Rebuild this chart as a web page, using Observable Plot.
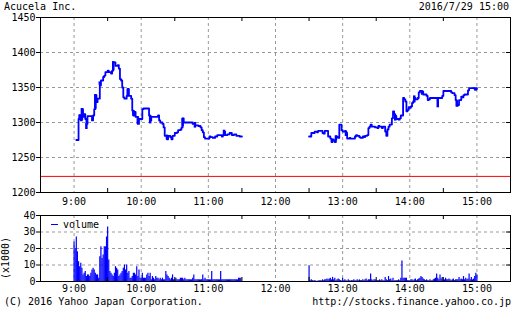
<!DOCTYPE html>
<html><head><meta charset="utf-8">
<script src="https://cdn.jsdelivr.net/npm/d3@7"></script>
<script src="https://cdn.jsdelivr.net/npm/@observablehq/plot@0.6"></script>
<style>
html,body{margin:0;padding:0;background:#fff;}
#c{position:relative;width:512px;height:310px;overflow:hidden;font-family:"DejaVu Sans Mono",monospace;font-size:10px;color:#000;}
#c svg{position:absolute;left:0;}
.t{position:absolute;line-height:12px;white-space:pre;}
</style></head><body><div id="c"></div>
<script>
const titleText = "Acucela Inc.";
const stampText = "2016/7/29 15:00";
const copyText = "(C) 2016 Yahoo Japan Corporation.";
const urlText = "http://stocks.finance.yahoo.co.jp";
const volUnit = "(x1000)";
const legendText = "volume";

const hourLabels = ["9:00","10:00","11:00","12:00","13:00","14:00","15:00"];
const halfLabels = ["9:30","10:30","11:30","12:30","13:30","14:30"];
const xRange = ["8:30","15:30"];
const priceTicks = [1200,1250,1300,1350,1400,1450];
const priceGrid = [1250,1300,1350,1400];
const volTicks = [0,10,20,30,40];
const volGrid = [10,20,30];
const prevClose = 1223;

const amTimes = ["9:02","9:04","9:05","9:06","9:07","9:08","9:09","9:10","9:11","9:12","9:16","9:17","9:18","9:19","9:20","9:21","9:23","9:24","9:26","9:27","9:28","9:30","9:31","9:33","9:34","9:35","9:37","9:39","9:40","9:41","9:42","9:43","9:44","9:45","9:47","9:48","9:49","9:51","9:52","9:53","9:54","9:55","9:57","9:58","10:01","10:02","10:07","10:08","10:09","10:15","10:16","10:17","10:19","10:20","10:21","10:23","10:24","10:26","10:27","10:28","10:30","10:32","10:33","10:35","10:36","10:37","10:38","10:46","10:48","10:51","10:53","10:54","10:55","10:56","10:57","11:01","11:02","11:04","11:06","11:08","11:12","11:13","11:14","11:15","11:17","11:19","11:21","11:23","11:25","11:28","11:30"];
const amPrices = [1275,1305,1310,1303,1319,1308,1312,1305,1298,1309,1303,1310,1319,1339,1329,1334,1353,1360,1365,1367,1372,1374,1372,1370,1374,1386,1381,1382,1377,1362,1360,1350,1336,1334,1338,1348,1338,1334,1317,1310,1315,1308,1298,1305,1319,1320,1310,1303,1308,1310,1303,1300,1298,1293,1281,1276,1281,1279,1276,1281,1285,1286,1289,1290,1293,1306,1300,1298,1296,1295,1293,1289,1286,1279,1277,1280,1279,1278,1280,1282,1280,1282,1287,1282,1283,1285,1282,1283,1281,1280,1280];

const pmTimes = ["12:30","12:32","12:33","12:35","12:37","12:38","12:41","12:42","12:43","12:44","12:46","12:47","12:49","12:50","12:51","12:52","12:53","12:54","12:55","12:56","12:57","12:59","13:00","13:02","13:03","13:04","13:06","13:07","13:10","13:11","13:12","13:13","13:15","13:16","13:18","13:19","13:20","13:22","13:23","13:24","13:25","13:26","13:29","13:31","13:32","13:33","13:35","13:36","13:38","13:39","13:40","13:41","13:42","13:44","13:45","13:46","13:47","13:48","13:50","13:51","13:52","13:54","13:55","13:56","13:57","13:58","13:59","14:00","14:01","14:02","14:03","14:04","14:05","14:07","14:08","14:09","14:11","14:12","14:14","14:15","14:16","14:17","14:18","14:24","14:26","14:29","14:30","14:35","14:37","14:38","14:40","14:41","14:42","14:43","14:44","14:46","14:47","14:48","14:49","14:52","14:53","14:56","14:58","14:59","15:00"];
const pmPrices = [1280,1285,1285,1287,1286,1288,1288,1285,1284,1288,1288,1280,1277,1272,1276,1274,1272,1280,1279,1278,1297,1289,1287,1288,1285,1277,1278,1277,1277,1280,1282,1281,1279,1278,1280,1279,1281,1282,1292,1294,1297,1294,1293,1292,1295,1294,1292,1294,1287,1281,1290,1294,1297,1306,1316,1312,1309,1305,1304,1306,1310,1335,1333,1330,1316,1318,1322,1321,1323,1328,1330,1335,1333,1335,1343,1345,1344,1340,1340,1338,1332,1333,1335,1335,1335,1338,1345,1345,1343,1342,1339,1332,1324,1325,1332,1337,1336,1339,1340,1346,1349,1349,1347,1349,1348];

const rangeTimes = ["9:05","9:07","9:11","9:19","9:23","9:35","9:48","9:53","9:57","10:08","10:23","10:37","10:48","11:14","12:54","13:03","13:47","14:04","14:11","14:25","14:42","14:59"];
const rangeLow  = [1303,1303,1290,1319,1353,1374,1338,1309,1297,1298,1275,1294,1292,1281,1274,1280,1302,1328,1339,1321,1322,1345];
const rangeHigh = [1311,1320,1298,1340,1358,1387,1348,1317,1308,1310,1282,1306,1300,1289,1281,1287,1310,1338,1345,1335,1331,1349];

const amVolStart = "9:00";
const amVol = [24,20,27,18,12,9,11,8,4,5,6,3,4,4,3,5,7,8,7,5,4,4,2,15,21,14,16,21,21,27,33,13,6,5,4,3,5,9,8,7,3,4,5,6,8,10,7,10,5,6,2,2,3,5,5,4,9,3,7,2,2,5,2,2,2,4,5,3,5,1,3,2,1,3,2,2,1,2,1,2,1,1,6,4,3,2,1,2,4,1,1,2,1,1,1,2,2,2,1,2,1,1,1,1,1,1,2,4,1,1,1,1,1,1,1,4,1,2,1,1,1,1,1,6,1,1,1,1,1,1,1,6,1,1,1,1,1,1,1,1,1,1,1,1,1,1,1,2,2,2,0];
const pmVolStart = "12:30";
const pmVol = [9.5,0.5,1,0.5,0.3,0.5,0.3,0,0.3,0.5,0.5,0.3,1,0.5,1,1,1.5,1,1.5,2,1,2.5,1,2,0.5,1,1.5,1,0.5,0.3,2,0.5,1,0.5,0.3,1,0.5,0.3,0.5,0.5,1,0.5,0.5,1,0.5,1,0.5,0.5,1,0.5,1,1.5,0.5,1,1,4.5,1,0.5,1,1,0.5,0.5,0.5,1,0.5,1,0.5,0.5,2.5,1,0.5,3,1,1.5,0.5,2,0.5,0.5,0.5,0.5,1,0.5,2,12.5,2,2,2,2,0.5,0.5,0.5,1,1,0.5,1,1.5,0.5,1,1.5,2,3,2.5,1.5,1,0.5,1,0.5,0.5,1,0.5,0.5,1,1.5,2,4.5,2,1,4,1.5,2.5,0.5,1,2,1,1,1.5,1,0.5,1,1.5,0.5,1,1,1,2.5,1,1.5,1,3,1,2,1,1.5,4.5,1,2.5,1,1.5,3,5,4];

const BLUE = "#0000ff", RED = "#ff0000", GRID = "#999999";
const FONT = "'DejaVu Sans Mono', monospace";

const toDate = s => { const [h, m] = s.split(":").map(Number); return new Date(Date.UTC(2016, 6, 29, h, m)); };
const addMin = (d, k) => new Date(d.getTime() + k * 60000);
const fmt = d => `${d.getUTCHours()}:${String(d.getUTCMinutes()).padStart(2, "0")}`;
const num = d => `${d}`;

const xDomain = xRange.map(toDate);
const hourTicks = hourLabels.map(toDate);
const halfTicks = halfLabels.map(toDate);

const price = [
  ...amTimes.map((t, i) => ({t: toDate(t), p: amPrices[i], s: "am"})),
  ...pmTimes.map((t, i) => ({t: toDate(t), p: pmPrices[i], s: "pm"}))
];
const ranges = rangeTimes.map((t, i) => ({t: toDate(t), lo: rangeLow[i], hi: rangeHigh[i]}));
const vols = [
  ...amVol.map((v, i) => ({t: addMin(toDate(amVolStart), i), v})),
  ...pmVol.map((v, i) => ({t: addMin(toDate(pmVolStart), i), v}))
];

const gridStyle = {stroke: GRID, strokeOpacity: 1, strokeDasharray: "3,3"};
const style = {fontFamily: FONT, fontSize: "10px", background: "transparent", overflow: "visible"};
const TICK = 4;

function panel({height, marginTop, marginBottom, yDomain, yTicks, yGrid, xPad, extra}) {
  const W = 512, ML = 40, MR = 2;
  const ph = height - marginTop - marginBottom;
  const pw = W - ML - MR;
  return Plot.plot({
    width: W, height, marginLeft: ML, marginRight: MR, marginTop, marginBottom,
    style,
    x: {type: "utc", domain: xDomain, label: null},
    y: {domain: yDomain, label: null},
    marks: [
      Plot.gridX(hourTicks, gridStyle),
      Plot.gridY(yGrid, gridStyle),
      ...extra,
      Plot.frame({stroke: "#000"}),
      Plot.ruleX(halfTicks, {stroke: "#000", insetTop: ph - TICK}),
      Plot.ruleX(halfTicks, {stroke: "#000", insetBottom: ph - TICK}),
      Plot.ruleY(yGrid, {stroke: "#000", insetLeft: pw - TICK}),
      Plot.axisX(hourTicks, {anchor: "bottom", tickSize: 0, tickPadding: xPad, tickFormat: fmt, fill: "#000"}),
      Plot.axisY(yTicks, {anchor: "left", tickSize: TICK, tickPadding: 1, tickFormat: num, fill: "#000"})
    ]
  });
}

const topChart = panel({
  height: 205, marginTop: 17, marginBottom: 13, yDomain: [1200, 1450],
  yTicks: priceTicks, yGrid: priceGrid, xPad: 5,
  extra: [
    Plot.ruleY([prevClose], {stroke: RED, strokeWidth: 1}),
    Plot.line(price, {x: "t", y: "p", z: "s", curve: "step-after", stroke: BLUE, strokeWidth: 1.8}),
    Plot.ruleX(ranges, {x: "t", y1: "lo", y2: "hi", stroke: BLUE, strokeWidth: 2.5})
  ]
});

const volChart = panel({
  height: 90, marginTop: 10, marginBottom: 14, yDomain: [0, 40],
  yTicks: volTicks, yGrid: volGrid, xPad: 3,
  extra: [
    Plot.ruleX(vols, {x: "t", y1: 0, y2: "v", stroke: BLUE, strokeWidth: 1.2})
  ]
});

const c = document.getElementById("c");
topChart.style.top = "0px";
volChart.style.top = "205px";
c.append(topChart, volChart);

function addText(txt, css) {
  const d = document.createElement("div");
  d.className = "t";
  d.textContent = txt;
  Object.assign(d.style, css);
  c.append(d);
  return d;
}
addText(titleText, {left: "4px", top: "0.5px"});
addText(stampText, {right: "3px", top: "0.5px"});
addText(copyText, {left: "4px", top: "295.5px"});
addText(urlText, {right: "1px", top: "295.5px"});
addText(volUnit, {left: "6px", top: "258px", transform: "translate(-50%,-50%) rotate(-90deg)"});
addText(legendText, {left: "63px", top: "219px"});
const sw = document.createElement("div");
Object.assign(sw.style, {position: "absolute", left: "51px", top: "224px", width: "7px", height: "1px", background: BLUE});
c.append(sw);
</script>
</body></html>
